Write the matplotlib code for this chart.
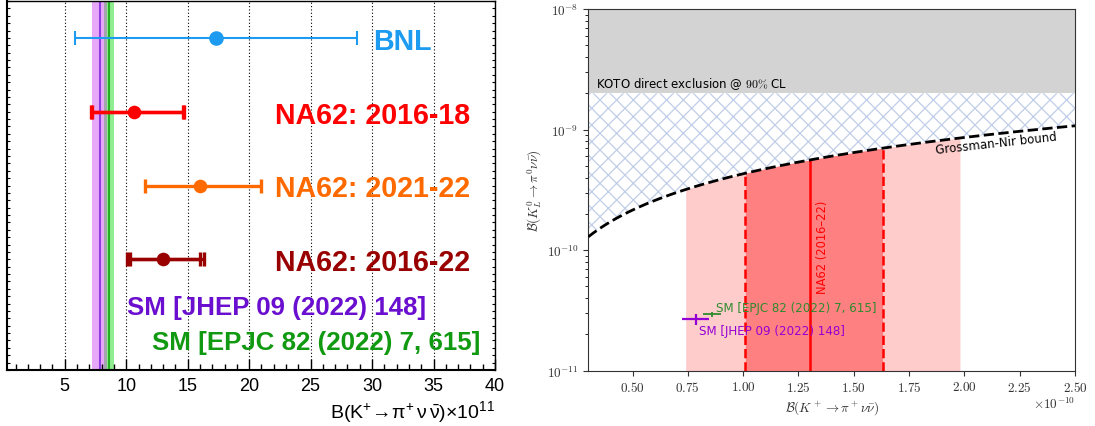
import numpy as np
import matplotlib
matplotlib.use("Agg")
import matplotlib.pyplot as plt
from matplotlib.ticker import MultipleLocator, FuncFormatter, LogLocator, NullFormatter, FixedLocator

plt.rcParams["font.family"] = ["DejaVu Sans"]
plt.rcParams["mathtext.fontset"] = "cm"
plt.rcParams["mathtext.rm"] = "Liberation Sans"
plt.rcParams["mathtext.it"] = "Liberation Sans:italic"
plt.rcParams["mathtext.bf"] = "Liberation Sans:bold"
plt.rcParams["hatch.linewidth"] = 0.9

# ---------------- measurements of B(K+ -> pi+ nu nubar), units of 1e-11
meas_labels = ["BNL", "NA62: 2016-18", "NA62: 2021-22", "NA62: 2016-22"]
meas_colors = ["#1C9BF0", "#FF0000", "#FF6A00", "#990000"]
meas_value = [17.3, 10.6, 16.0, 13.0]
meas_err_lo = [11.5, 3.5, 4.5, 2.9]      # total uncertainty
meas_err_hi = [11.5, 4.1, 5.0, 3.3]
meas_stat_lo = [None, 3.4, None, 2.7]    # statistical part only
meas_stat_hi = [None, 4.0, None, 3.0]
br_ticks = [5, 10, 15, 20, 25, 30, 35, 40]

# ---------------- Standard Model predictions, units of 1e-11
sm_labels = ["SM [JHEP 09 (2022) 148]", "SM [EPJC 82 (2022) 7, 615]"]
sm_colors_left = ["#6A0FCF", "#119A11"]
sm_band_colors = ["#E8A8F8", "#90EE90"]
sm_line_colors = ["#8F3FE0", "#22B022"]
sm_colors_right = ["#9400D3", "#2E8B2E"]
sm_kplus = [7.86, 8.60]
sm_kplus_err = [0.61, 0.42]
sm_klong = [2.68, 2.94]
sm_klong_err = [0.30, 0.15]

# ---------------- K_L plane inputs
koto_limit = 2.0e-9            # 90% CL upper limit on B(K_L -> pi0 nu nubar)
gn_factor = 4.3                # Grossman-Nir: B(K_L) < 4.3 B(K+)
na62_value = 13.0              # NA62 2016-22, units of 1e-11
na62_1s = (2.9, 3.3)
na62_2s = (5.6, 6.8)
kplus_ticks = [0.50, 0.75, 1.00, 1.25, 1.50, 1.75, 2.00, 2.25, 2.50]  # units of 1e-10

fig = plt.figure(figsize=(10.95, 4.27), dpi=100)

# ======================= left panel =======================
ax1 = fig.add_axes([7 / 1095, 56 / 427, 488 / 1095, 369 / 427])
ax1.set_xlim(0.3, 40)
ax1.set_ylim(-0.5, 4.5)

# SM bands (overlap drawn grey)
for v, e, bc in zip(sm_kplus, sm_kplus_err, sm_band_colors):
    ax1.axvspan(v - e, v + e, color=bc, lw=0, zorder=0.5)
ov_lo = max(v - e for v, e in zip(sm_kplus, sm_kplus_err))
ov_hi = min(v + e for v, e in zip(sm_kplus, sm_kplus_err))
if ov_hi > ov_lo:
    ax1.axvspan(ov_lo, ov_hi, color="#A4A4AC", lw=0, zorder=0.6)
for v, lc in zip(sm_kplus, sm_line_colors):
    ax1.axvline(v, color=lc, lw=1.5, zorder=0.7)

ax1.grid(axis="x", which="major", ls=(0, (1, 2)), color="k", lw=0.8, zorder=0.2)

for i, (lab, c, v, lo, hi, slo, shi) in enumerate(
        zip(meas_labels, meas_colors, meas_value, meas_err_lo, meas_err_hi,
            meas_stat_lo, meas_stat_hi)):
    y = len(meas_labels) - i
    lw = 1.5 if i == 0 else 2.4
    ms = 10.5 if i == 0 else 9.8
    ax1.errorbar(v, y, xerr=[[lo], [hi]], fmt="none", ecolor=c,
                 elinewidth=lw, capsize=4.7, capthick=lw, zorder=3)
    if slo is not None:
        ax1.errorbar(v, y, xerr=[[slo], [shi]], fmt="none", ecolor=c,
                     elinewidth=lw, capsize=4.7, capthick=lw, zorder=3)
    ax1.plot([v], [y], "o", color=c, ms=ms, mew=0, zorder=4)

label_x = [30.1, 22.1, 22.1, 22.1]
for i, (lab, c, lx) in enumerate(zip(meas_labels, meas_colors, label_x)):
    y = len(meas_labels) - i
    ax1.text(lx, y - 0.04, lab, color=c, fontsize=20.6, fontweight="bold",
             family="Liberation Sans", ha="left", va="center")

for lab, c, lx, ly in zip(sm_labels, sm_colors_left, [10.1, 12.1], [0.354, -0.12]):
    ax1.text(lx, ly, lab, color=c, fontsize=18.6, fontweight="bold",
             family="Liberation Sans", ha="left", va="center")

ax1.xaxis.set_major_locator(FixedLocator(br_ticks))
ax1.xaxis.set_minor_locator(FixedLocator(np.arange(1, 40)))
ax1.xaxis.set_major_formatter(FuncFormatter(lambda v, p: f"{v:g}"))
ax1.yaxis.set_major_locator(FixedLocator(np.arange(-5, 46) / 10))
ax1.yaxis.set_major_formatter(NullFormatter())
ax1.tick_params(axis="x", which="major", direction="in", length=8, width=1.0,
                labelsize=13, pad=5, top=False)
ax1.tick_params(axis="x", which="minor", direction="in", length=4, width=1.0, top=False)
ax1.tick_params(axis="y", which="major", direction="in", length=2.2, width=0.8,
                left=True, right=True, labelleft=False)
for lbl in ax1.get_xticklabels():
    lbl.set_family("Liberation Sans")
for s in ["left", "bottom"]:
    ax1.spines[s].set_linewidth(1.5)
for s in ["top", "right"]:
    ax1.spines[s].set_linewidth(1.0)

ax1.set_xlabel(r"B(K$^{+}\!\rightarrow\!\mathrm{\pi}^{+}\,\mathrm{\nu}\,\bar{\mathrm{\nu}}$)$\times$10$^{11}$",
               fontsize=14, loc="right", labelpad=3, family="Liberation Sans",
               math_fontfamily="custom")

# ======================= right panel =======================
ax2 = fig.add_axes([588.3 / 1095, 55.3 / 427, 486.7 / 1095, 361.7 / 427])
ax2.set_yscale("log")
xmin, xmax = 0.3e-10, 2.5e-10
ax2.set_xlim(xmin, xmax)
ax2.set_ylim(1e-11, 1e-8)

ax2.axhspan(koto_limit, 1e-8, color="#D3D3D3", lw=0, zorder=0)
ax2.text(0.334e-10, 2.43e-9, r"KOTO direct exclusion @ $90\%$ CL", fontsize=8.5,
         ha="left", va="center")

xs = np.linspace(xmin, xmax, 500)
gn = gn_factor * xs
ax2.fill_between(xs, gn, koto_limit, where=gn < koto_limit, interpolate=True,
                 facecolor="none", edgecolor="#C0CEE8", hatch="xx", lw=0, zorder=0.5)

v = na62_value * 1e-11
x2 = np.linspace(v - na62_2s[0] * 1e-11, v + na62_2s[1] * 1e-11, 200)
ax2.fill_between(x2, 1e-11, gn_factor * x2, color="red", alpha=0.2, lw=0, zorder=1)
x1 = np.linspace(v - na62_1s[0] * 1e-11, v + na62_1s[1] * 1e-11, 200)
ax2.fill_between(x1, 1e-11, gn_factor * x1, color="red", alpha=0.37, lw=0, zorder=1.1)
ax2.plot([v, v], [1e-11, gn_factor * v], color="red", lw=1.8, zorder=2)
for e in (-na62_1s[0], na62_1s[1]):
    xe = v + e * 1e-11
    ax2.plot([xe, xe], [1e-11, gn_factor * xe], color="red", lw=1.8, ls="--", zorder=2)
ax2.text(1.36e-10, 1.08e-10, "NA62 (2016–22)", rotation=90, color="red",
         fontsize=8.3, ha="center", va="center")

ax2.plot(xs, gn, color="k", ls="--", lw=2, zorder=3)

for k, ke, l, le, c, lw in zip(sm_kplus, sm_kplus_err, sm_klong, sm_klong_err,
                               sm_colors_right, [1.6, 1.3]):
    ax2.errorbar(k * 1e-11, l * 1e-11, xerr=ke * 1e-11, yerr=le * 1e-11, fmt="none",
                 ecolor=c, lw=lw, zorder=4)
ax2.text(0.802e-10, 2.17e-11, sm_labels[0], color=sm_colors_right[0], fontsize=8.6,
         ha="left", va="center", zorder=5)
ax2.text(0.877e-10, 3.35e-11, sm_labels[1], color=sm_colors_right[1], fontsize=8.6,
         ha="left", va="center", zorder=5)

# Grossman-Nir label aligned with the bound
gx = 2.14e-10
p0 = ax2.transData.transform((gx - 0.1e-10, gn_factor * (gx - 0.1e-10)))
p1 = ax2.transData.transform((gx + 0.1e-10, gn_factor * (gx + 0.1e-10)))
ang = np.degrees(np.arctan2(p1[1] - p0[1], p1[0] - p0[0]))
ax2.text(gx, gn_factor * gx * 0.95, "Grossman-Nir bound", fontsize=8.5, rotation=ang,
         rotation_mode="anchor", ha="center", va="top", zorder=5)

ax2.xaxis.set_major_locator(FixedLocator([t * 1e-10 for t in kplus_ticks]))
ax2.xaxis.set_major_formatter(FuncFormatter(lambda t, p: f"${t * 1e10:.2f}$"))
ax2.yaxis.set_major_locator(LogLocator(base=10))
ax2.yaxis.set_major_formatter(FuncFormatter(lambda t, p: f"$10^{{{int(round(np.log10(t)))}}}$"))
ax2.yaxis.set_minor_locator(LogLocator(base=10, subs=np.arange(2, 10)))
ax2.yaxis.set_minor_formatter(NullFormatter())
ax2.tick_params(labelsize=9.5, colors="#333333")
ax2.text(1.0, -0.07, r"$\times10^{-10}$", transform=ax2.transAxes, ha="right",
         va="top", fontsize=9.5, color="#333333")
ax2.set_xlabel(r"$\mathcal{B}(K^+ \to \pi^+ \nu\bar{\nu})$", fontsize=9.5,
               color="#333333", labelpad=3)
ax2.set_ylabel(r"$\mathcal{B}(K_L^0 \to \pi^0 \nu\bar{\nu})$", fontsize=9.5,
               color="#333333", labelpad=2)
for s in ax2.spines.values():
    s.set_color("#333333")

fig.savefig("out.png", dpi=100)
